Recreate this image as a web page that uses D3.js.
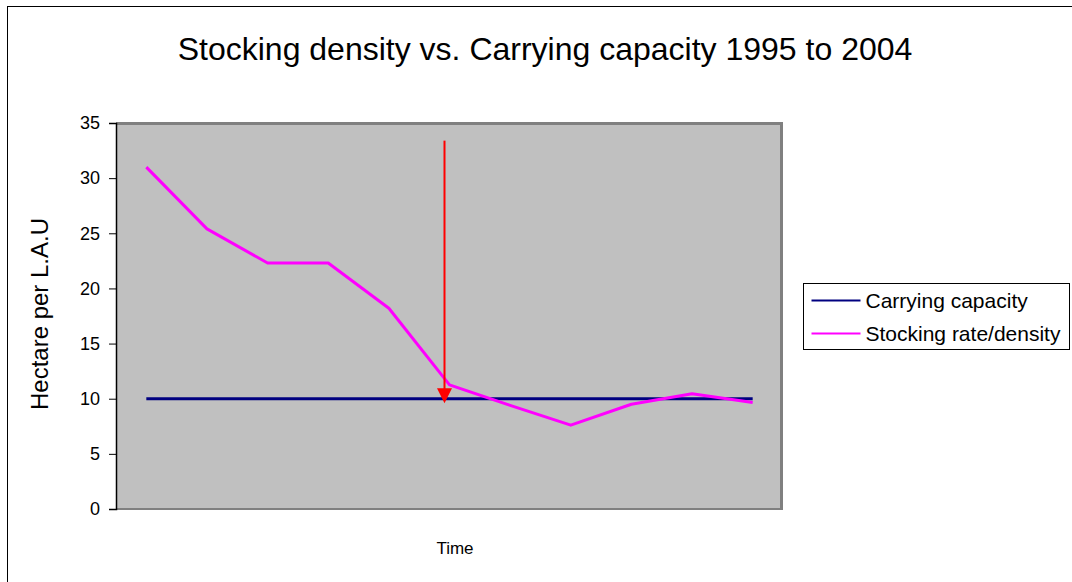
<!DOCTYPE html>
<html lang="en">
<head>
<meta charset="UTF-8" />
<title>Stocking density vs. Carrying capacity 1995 to 2004</title>
<script src="https://d3js.org/d3.v7.min.js"></script>
<style>
    body { margin: 0; background: #fff; font-family: "Liberation Sans", Arial, sans-serif; }
    svg { display: block; }
</style>
</head>
<body>
<div id="chart"></div>
<script>
    // data
    const periods = ["1", "2", "3", "4", "5", "6", "7", "8", "9", "10", "11"];
    const carryingCapacity = [10, 10, 10, 10, 10, 10, 10, 10, 10, 10, 10];
    const stockingRate = [31.0, 25.4, 22.3, 22.3, 18.2, 11.25, 9.4, 7.6, 9.5, 10.45, 9.65];
    const yTicks = [0, 5, 10, 15, 20, 25, 30, 35];
    const arrowFrom = 33.4, arrowTo = 9.6, arrowAt = 5;

    const W = 1072, H = 582;
    const margin = { top: 123, left: 116, right: 289, bottom: 73 };
    const width = W - margin.left - margin.right,
          height = H - margin.top - margin.bottom;

    const svg = d3.select("#chart").append("svg")
        .attr("width", W).attr("height", H);

    // outer chart border
    svg.append("rect")
        .attr("x", 7.5).attr("y", 6.5)
        .attr("width", W).attr("height", H)
        .attr("fill", "none").attr("stroke", "#000").attr("stroke-width", 1);

    svg.append("text")
        .attr("x", 545).attr("y", 60)
        .attr("text-anchor", "middle")
        .style("font-size", "32px")
        .text("Stocking density vs. Carrying capacity 1995 to 2004");

    const g = svg.append("g").attr("transform", `translate(${margin.left},${margin.top})`);

    const x = d3.scaleBand().domain(periods).range([0, width]);
    const y = d3.scaleLinear().domain([0, 35]).range([height, 0]);
    const cx = d => x(d) + x.bandwidth() / 2;

    // plot area
    g.append("rect")
        .attr("width", width).attr("height", height)
        .attr("fill", "#c0c0c0");
    g.append("path")
        .attr("d", `M0,0.5H${width - 1.5}V${height}`)
        .attr("fill", "none").attr("stroke", "#808080").attr("stroke-width", 3);
    g.append("line")
        .attr("x1", 0).attr("x2", width).attr("y1", height).attr("y2", height)
        .attr("stroke", "#808080").attr("stroke-width", 2);

    // y axis
    const yAxis = g.append("g")
        .call(d3.axisLeft(y).tickValues(yTicks).tickSize(7).tickPadding(9));
    yAxis.select(".domain").attr("stroke", "#000").attr("stroke-width", 1.5);
    yAxis.selectAll(".tick line").attr("stroke", "#000");
    yAxis.selectAll("text")
        .style("font-size", "18px")
        .style("font-family", "'Liberation Sans', Arial, sans-serif")
        .attr("fill", "#000");

    g.append("text")
        .attr("transform", `translate(-68,${height / 2 - 2}) rotate(-90)`)
        .attr("text-anchor", "middle")
        .style("font-size", "24px")
        .text("Hectare per L.A.U");

    g.append("text")
        .attr("x", 339).attr("y", height + 45)
        .attr("text-anchor", "middle")
        .style("font-size", "17px")
        .text("Time");

    const line = d3.line().x((d, i) => cx(periods[i])).y(d => y(d));

    g.append("path")
        .attr("d", line(carryingCapacity))
        .attr("fill", "none").attr("stroke", "#000080").attr("stroke-width", 3);
    g.append("path")
        .attr("d", line(stockingRate))
        .attr("fill", "none").attr("stroke", "#ff00ff").attr("stroke-width", 3)
        .attr("stroke-linejoin", "round");

    // red arrow
    const ax = cx(periods[arrowAt]) - 5;
    g.append("line")
        .attr("x1", ax).attr("x2", ax)
        .attr("y1", y(arrowFrom)).attr("y2", y(arrowTo) - 12)
        .attr("stroke", "#ff0000").attr("stroke-width", 2);
    g.append("path")
        .attr("d", `M${ax - 7.5},${y(arrowTo) - 15}L${ax + 7.5},${y(arrowTo) - 15}L${ax},${y(arrowTo)}Z`)
        .attr("fill", "#ff0000");

    // legend
    const legend = svg.append("g").attr("transform", "translate(803.5,283.5)");
    legend.append("rect")
        .attr("width", 266).attr("height", 66)
        .attr("fill", "#fff").attr("stroke", "#000").attr("stroke-width", 1);
    const series = [["Carrying capacity", "#000080"], ["Stocking rate/density", "#ff00ff"]];
    series.forEach(([name, col], i) => {
        const row = legend.append("g").attr("transform", `translate(0,${17 + i * 33})`);
        row.append("line").attr("x1", 8).attr("x2", 57)
            .attr("stroke", col).attr("stroke-width", 2);
        row.append("text").attr("x", 62).attr("y", 7)
            .style("font-size", "21px").text(name);
    });
</script>
</body>
</html>
